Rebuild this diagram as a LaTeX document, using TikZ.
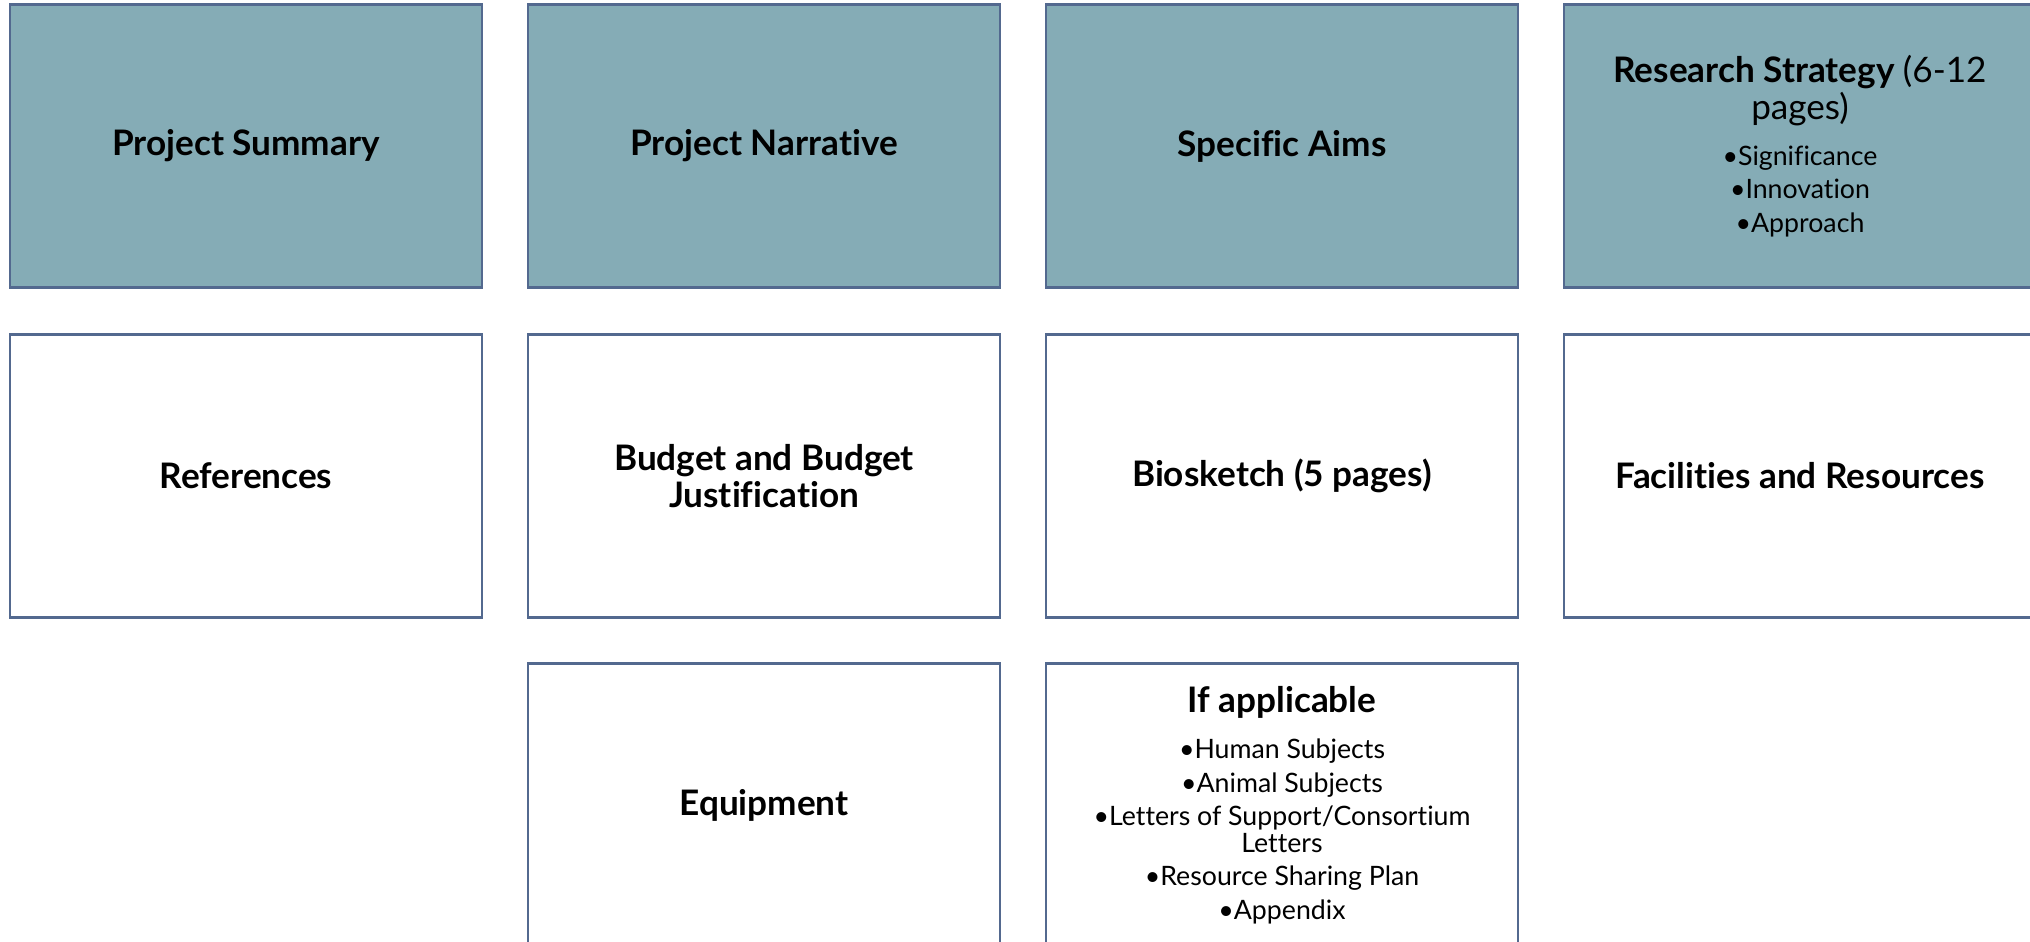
\documentclass[tikz,border=0pt]{standalone}
\usepackage{fontspec}
\setmainfont{Lato}[Ligatures=NoCommon]
\definecolor{boxfill}{HTML}{85ACB6}
\definecolor{boxline}{HTML}{53698F}
% one bulleted line in the smaller upright font
\newcommand{\itemfont}{\mdseries\fontsize{7.6}{9.5}\selectfont}
\newcommand{\bul}[1]{\itemfont\textbullet #1}

\begin{document}
\begin{tikzpicture}[
  part/.style={rectangle,draw=boxline,line width=0.75pt,minimum width=4.72cm,
    minimum height=2.83cm,align=center,inner sep=2pt,
    font=\fontsize{10}{10.6}\selectfont\bfseries},
  core/.style={part,fill=boxfill},
  extra/.style={part,fill=white}
]
  \useasboundingbox (0,0) rectangle (20.30,-9.41);
  % first row: main parts
  \node[core] (summary) at (2.46,-1.46) {Project Summary};
  \node[core] (narrative) at (7.64,-1.46) {Project Narrative};
  \node[core] (aims) at (12.82,-1.46) {Specific Aims};
  \node[core] (strategy) at (18.00,-1.46) {Research Strategy \mdseries(6-12\\\mdseries pages)\\[2.5pt]
    \bul{Significance}\\[-1.1pt]\bul{Innovation}\\[-1.1pt]\bul{Approach}};
  % second row
  \node[extra] (refs) at (2.46,-4.76) {References};
  \node[extra] (budget) at (7.64,-4.76) {Budget and Budget\\Justification};
  \node[extra] (bio) at (12.82,-4.76) {Biosketch (5 pages)};
  \node[extra] (facilities) at (18.00,-4.76) {Facilities and Resources};
  % third row
  \node[extra] (equip) at (7.64,-8.05) {Equipment};
  \node[extra] (other) at (12.82,-8.05) {If applicable\\[2.6pt]
    \bul{Human Subjects}\\[-1.1pt]\bul{Animal Subjects}\\[-1.1pt]
    \bul{Letters of Support/Consortium}\\[-2.9pt]\itemfont Letters\\[-1.1pt]
    \bul{Resource Sharing Plan}\\[-1.1pt]\bul{Appendix}};
\end{tikzpicture}
\end{document}
